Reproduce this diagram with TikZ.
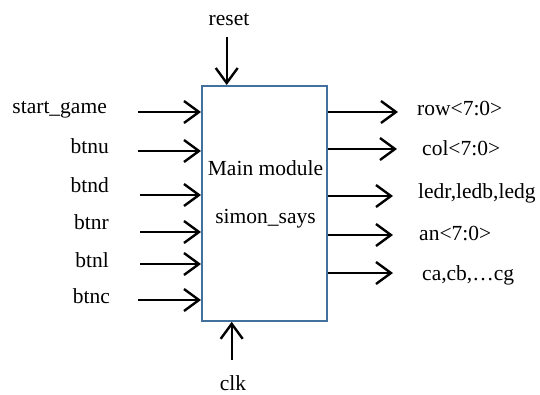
\documentclass[tikz,border=0pt]{standalone}
\usepackage{fontspec}
\setmainfont{Liberation Serif}
\usetikzlibrary{arrows.meta}
\definecolor{boxblue}{RGB}{65,113,156}

\begin{document}
\begin{tikzpicture}[x=1pt,y=-1pt,
    modbox/.style={draw=boxblue,line width=1.8pt,minimum width=125pt,minimum height=235pt,inner sep=0pt},
    sig/.style={font=\fontsize{21.5}{26}\selectfont,inner sep=0pt},
    wire/.style={line width=2.4pt,-{Straight Barb[length=15pt,width=22pt,line width=2.4pt]}}]

\useasboundingbox (0,0) rectangle (540,394);

% the module
\node[modbox] (main) at (264.4,203.4) {};
\node[sig,anchor=base] (title) at (265.5,175) {Main module};
\node[sig,anchor=base] (inst) at (265.5,223) {simon\_says};

% inputs
\node[sig,anchor=base east] (start) at (107,113) {start\_game};
\node[sig,anchor=base east] (btnu) at (109,153) {btnu};
\node[sig,anchor=base east] (btnd) at (109,192) {btnd};
\node[sig,anchor=base east] (btnr) at (109,229) {btnr};
\node[sig,anchor=base east] (btnl) at (109,267) {btnl};
\node[sig,anchor=base east] (btnc) at (110,303) {btnc};

\coordinate (i1) at (138,112);
\coordinate (i2) at (138,151);
\coordinate (i3) at (140,195);
\coordinate (i4) at (140,232);
\coordinate (i5) at (140,264);
\coordinate (i6) at (138,300);

\draw[wire] (i1) -- (i1 -| main.west);
\draw[wire] (i2) -- (i2 -| main.west);
\draw[wire] (i3) -- (i3 -| main.west);
\draw[wire] (i4) -- (i4 -| main.west);
\draw[wire] (i5) -- (i5 -| main.west);
\draw[wire] (i6) -- (i6 -| main.west);

% outputs
\coordinate (o1) at (398,112);
\coordinate (o2) at (397,149);
\coordinate (o3) at (393,196);
\coordinate (o4) at (393,235);
\coordinate (o5) at (393,273);

\draw[wire] (o1 -| main.east) -- (o1);
\draw[wire] (o2 -| main.east) -- (o2);
\draw[wire] (o3 -| main.east) -- (o3);
\draw[wire] (o4 -| main.east) -- (o4);
\draw[wire] (o5 -| main.east) -- (o5);

\node[sig,anchor=base west] (row) at (417,115) {row<7:0>};
\node[sig,anchor=base west] (col) at (422,155) {col<7:0>};
\node[sig,anchor=base west] (led) at (418,198) {ledr,ledb,ledg};
\node[sig,anchor=base west] (an) at (419,240) {an<7:0>};
\node[sig,anchor=base west] (seg) at (422,280) {ca,cb,…cg};

% reset and clock
\node[sig,anchor=base] (reset) at (229,25) {reset};
\coordinate (r0) at (226.7,37);
\draw[wire] (r0) -- (r0 |- main.north);

\node[sig,anchor=base] (clk) at (233,390) {clk};
\coordinate (c0) at (231.7,360);
\draw[wire] (c0) -- (c0 |- main.south);
\end{tikzpicture}
\end{document}
